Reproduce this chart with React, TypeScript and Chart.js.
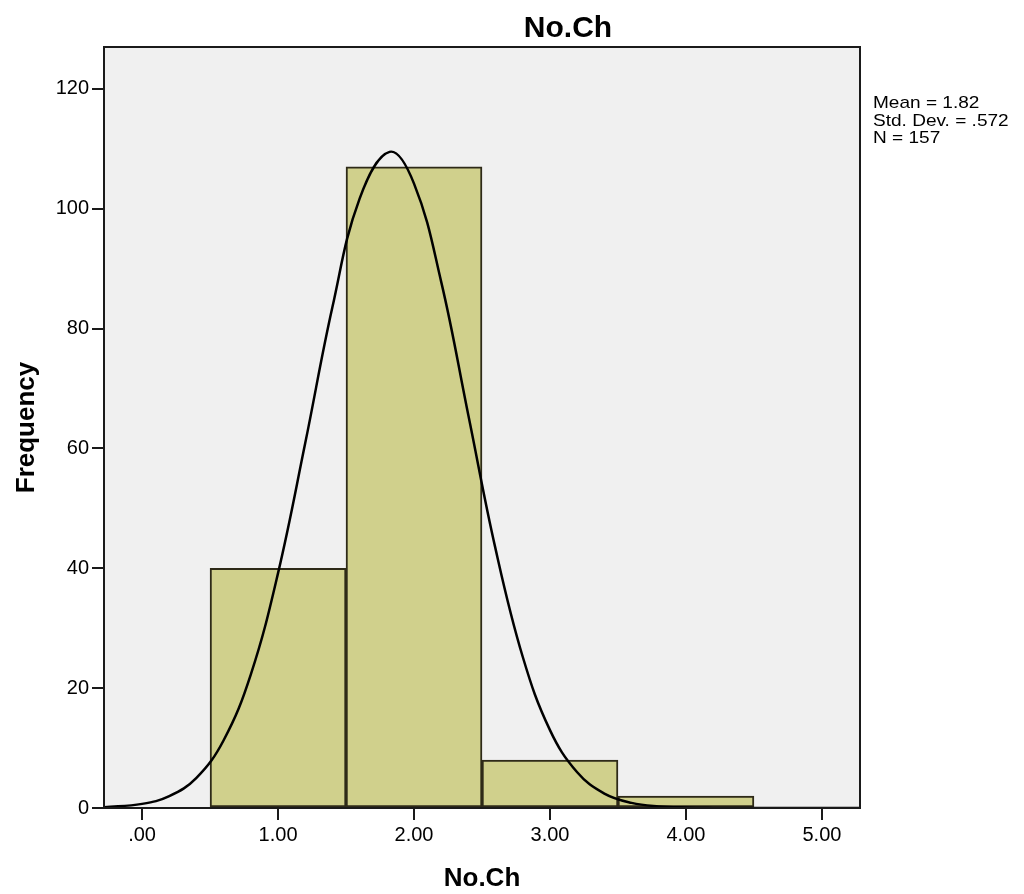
import React, { useEffect, useRef } from "react";
import { Chart, registerables } from "chart.js";

Chart.register(...registerables);

const binCenters = [1, 2, 3, 4];
const frequencies = [40, 107, 8, 2];

const curveX = [-0.28, 0, 0.2, 0.4, 0.6, 0.8, 1.0, 1.2, 1.4, 1.6, 1.82, 2.0, 2.2, 2.4, 2.6, 2.8, 3.0, 3.2, 3.4, 3.6, 3.8, 4.0, 4.2, 4.5, 5.0, 5.28];
const curveY = [0.13, 0.69, 1.98, 5.02, 11.3, 22.3, 39.2, 60.9, 83.6, 101.7, 109.5, 104.2, 87.8, 65.5, 43.2, 25.2, 13.0, 5.96, 2.41, 0.86, 0.27, 0.08, 0.02, 0, 0, 0];

const xTicks = [0, 1, 2, 3, 4, 5];
const xTickLabels = [".00", "1.00", "2.00", "3.00", "4.00", "5.00"];
const yTicks = [0, 20, 40, 60, 80, 100, 120];

const titleText = "No.Ch";
const xTitle = "No.Ch";
const yTitle = "Frequency";
const statsLines = ["Mean = 1.82", "Std. Dev. = .572", "N = 157"];

const FONT = "'Liberation Sans', Arial, sans-serif";

export default function App() {
  const ref = useRef<HTMLCanvasElement | null>(null);

  useEffect(() => {
    if (!ref.current) return;
    const decor = {
      id: "decor",
      beforeDraw(chart: any) {
        const { ctx, chartArea: a } = chart;
        ctx.save();
        ctx.fillStyle = "#ffffff";
        ctx.fillRect(0, 0, chart.width, chart.height);
        ctx.fillStyle = "#f0f0f0";
        ctx.fillRect(a.left, a.top, a.right - a.left, a.bottom - a.top);
        ctx.restore();
      },
      afterDraw(chart: any) {
        const { ctx, chartArea: a } = chart;
        ctx.save();
        ctx.strokeStyle = "#1a1a1a";
        ctx.lineWidth = 2;
        ctx.strokeRect(a.left, a.top, a.right - a.left, a.bottom - a.top);
        ctx.fillStyle = "#000";
        ctx.textAlign = "center";
        ctx.textBaseline = "alphabetic";
        ctx.font = `bold 30px ${FONT}`;
        ctx.fillText(titleText, 568, 37);
        ctx.font = `bold 26px ${FONT}`;
        ctx.fillText(xTitle, (a.left + a.right) / 2, 886);
        ctx.save();
        ctx.translate(34, (a.top + a.bottom) / 2);
        ctx.rotate(-Math.PI / 2);
        ctx.fillText(yTitle, 0, 0);
        ctx.restore();
        ctx.textAlign = "left";
        ctx.font = `17px ${FONT}`;
        statsLines.forEach((s, i) => {
          ctx.save();
          ctx.translate(a.right + 13, 108 + i * 17.5);
          ctx.scale(1.12, 1);
          ctx.fillText(s, 0, 0);
          ctx.restore();
        });
        ctx.restore();
      },
    };

    const chart = new Chart(ref.current, {
      type: "bar",
      data: {
        datasets: [
          {
            type: "line",
            data: curveX.map((x, i) => ({ x, y: curveY[i] })),
            borderColor: "#000",
            borderWidth: 2.5,
            pointRadius: 0,
            tension: 0.4,
            fill: false,
            order: 0,
          } as any,
          {
            type: "bar",
            data: binCenters.map((x, i) => ({ x, y: frequencies[i] })),
            backgroundColor: "#d0d08c",
            borderColor: "#2e2a18",
            borderWidth: 2,
            borderSkipped: false,
            barPercentage: 1,
            categoryPercentage: 1,
            order: 1,
          } as any,
        ],
      },
      options: {
        animation: false,
        responsive: false,
        maintainAspectRatio: false,
        layout: { padding: { left: 0, top: 47, right: 164, bottom: 0 } },
        plugins: { legend: { display: false }, tooltip: { enabled: false }, title: { display: false } },
        scales: {
          x: {
            type: "linear",
            min: -0.28,
            max: 5.28,
            offset: false,
            afterBuildTicks: (s: any) => {
              s.ticks = xTicks.map((v) => ({ value: v }));
            },
            afterFit: (s: any) => {
              s.height = 86;
            },
            ticks: {
              callback: (_v: any, i: number) => xTickLabels[i],
              color: "#000",
              font: { family: FONT, size: 20 },
              padding: 3,
              maxRotation: 0,
              autoSkip: false,
            },
            grid: { offset: false, drawOnChartArea: false, drawTicks: true, tickLength: 12, color: "#1a1a1a", lineWidth: 2 },
            border: { display: true, color: "#1a1a1a", width: 2 },
          },
          y: {
            type: "linear",
            min: 0,
            max: 127,
            afterBuildTicks: (s: any) => {
              s.ticks = yTicks.map((v) => ({ value: v }));
            },
            afterFit: (s: any) => {
              s.width = 104;
            },
            ticks: {
              color: "#000",
              font: { family: FONT, size: 20 },
              padding: 3,
              autoSkip: false,
            },
            grid: { drawOnChartArea: false, drawTicks: true, tickLength: 12, color: "#1a1a1a", lineWidth: 2 },
            border: { display: true, color: "#1a1a1a", width: 2 },
          },
        },
      },
      plugins: [decor],
    });
    return () => chart.destroy();
  }, []);

  return (
    <div style={{ position: "fixed", left: 0, top: 0, width: 1024, height: 894 }}>
      <canvas ref={ref} width={1024} height={894} style={{ width: 1024, height: 894 }} />
    </div>
  );
}
